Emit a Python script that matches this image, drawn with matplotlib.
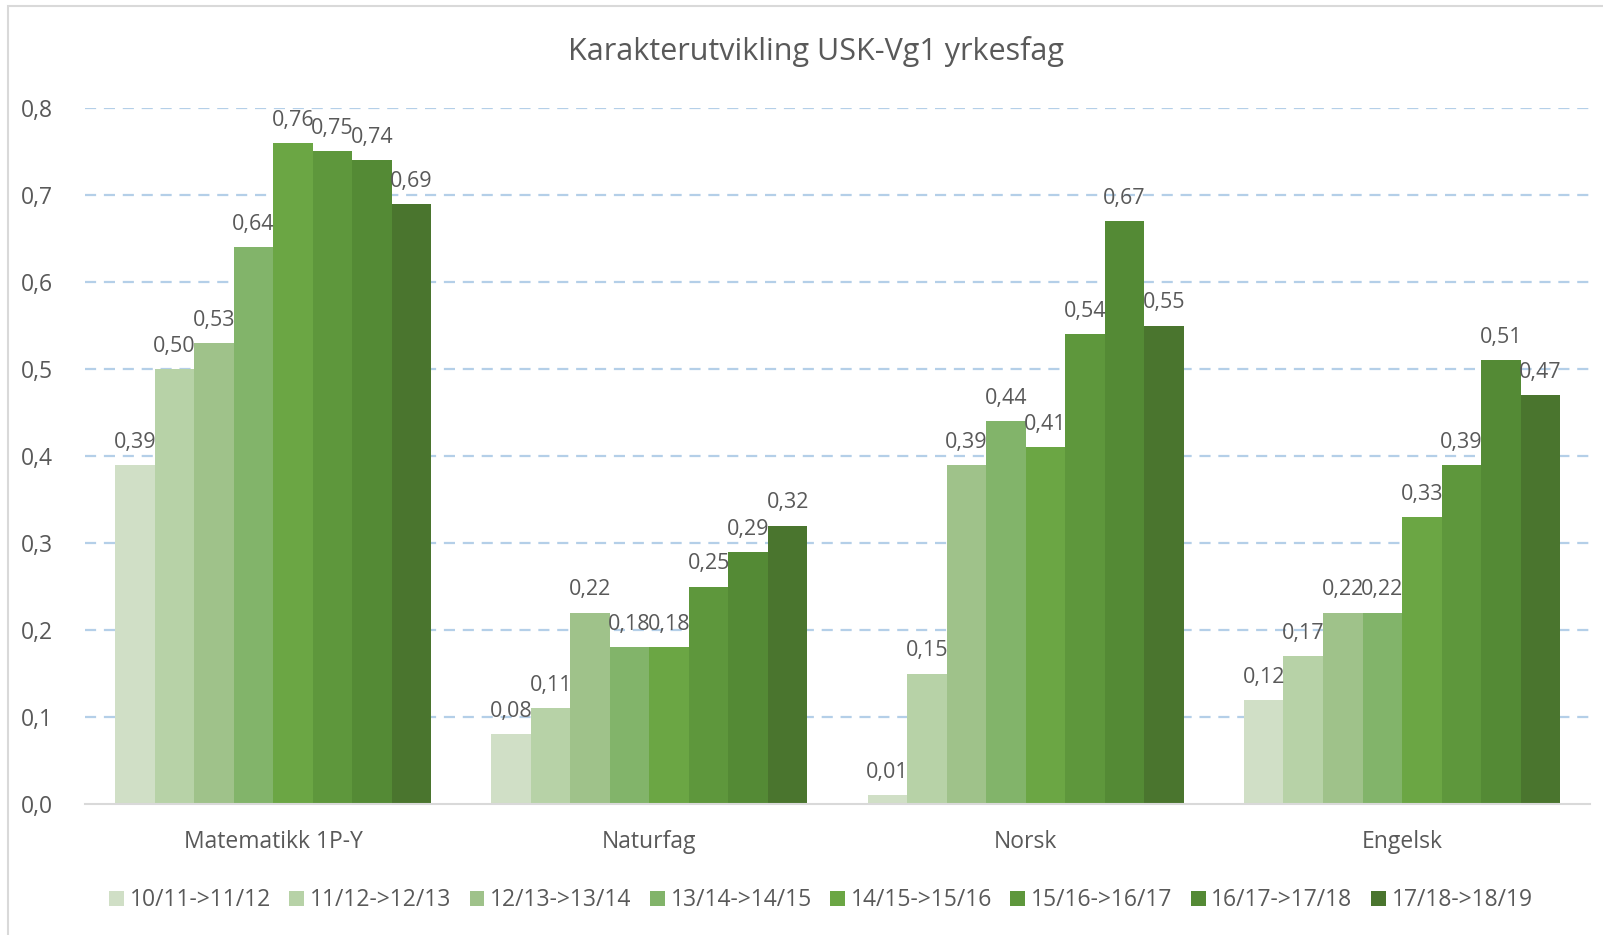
import matplotlib
matplotlib.use('Agg')
import matplotlib.pyplot as plt
import numpy as np
from matplotlib.patches import Rectangle

plt.rcParams['font.family'] = ['Open Sans', 'DejaVu Sans']

subjects = ['Matematikk 1P-Y', 'Naturfag', 'Norsk', 'Engelsk']
periods = ['10/11->11/12', '11/12->12/13', '12/13->13/14', '13/14->14/15',
           '14/15->15/16', '15/16->16/17', '16/17->17/18', '17/18->18/19']
p1 = [0.39, 0.08, 0.01, 0.12]
p2 = [0.50, 0.11, 0.15, 0.17]
p3 = [0.53, 0.22, 0.39, 0.22]
p4 = [0.64, 0.18, 0.44, 0.22]
p5 = [0.76, 0.18, 0.41, 0.33]
p6 = [0.75, 0.25, 0.54, 0.39]
p7 = [0.74, 0.29, 0.67, 0.51]
p8 = [0.69, 0.32, 0.55, 0.47]
series = [p1, p2, p3, p4, p5, p6, p7, p8]
colors = ['#d0dfc6', '#b7d2a7', '#9fc28a', '#82b46a',
          '#6ba644', '#5e973c', '#548a35', '#4a752e']
txt = '#595959'

fig = plt.figure(figsize=(16.03, 9.35), dpi=100)
ax = fig.add_axes([0.053, 0.140, 0.939, 0.7445])

x = np.arange(len(subjects))
w = 0.105
for i, vals in enumerate(series):
    xs = x + (i - 3.5) * w
    ax.bar(xs, vals, width=w, color=colors[i], label=periods[i], zorder=3)
    for xi, v in zip(xs, vals):
        ax.text(xi, v + 0.014, f"{v:.2f}".replace('.', ','), ha='center', va='bottom',
                fontsize=15.5, color=txt, zorder=4)

ax.set_xlim(-0.5, 3.5)
ax.set_ylim(0, 0.8)
yt = np.arange(0, 0.81, 0.1)
ax.set_yticks(yt)
ax.set_yticklabels([f"{t:.1f}".replace('.', ',') for t in yt], fontsize=16.5, color=txt)
ax.set_xticks(x)
ax.set_xticklabels(subjects, fontsize=16.5, color=txt)
ax.tick_params(axis='both', length=0)
ax.tick_params(axis='y', pad=23)
ax.tick_params(axis='x', pad=19)
for t in yt[1:]:
    ax.axhline(t, color='#b4cfe8', linestyle=(0, (5, 3.5)), linewidth=1.6, zorder=1)
for s in ['top', 'right', 'left']:
    ax.spines[s].set_visible(False)
ax.spines['bottom'].set_color('#d9d9d9')
ax.spines['bottom'].set_linewidth(1.5)
ax.spines['bottom'].set_zorder(5)

fig.text(0.509, 0.945, 'Karakterutvikling USK-Vg1 yrkesfag', ha='center', va='center',
         fontsize=22, color=txt)

fig.legend(loc='center', bbox_to_anchor=(0.512, 0.037), ncol=8, frameon=False,
           fontsize=16.5, labelcolor=txt, handlelength=0.65, handleheight=0.65,
           handletextpad=0.25, columnspacing=0.8)

fig.patches.append(Rectangle((8 / 1603, -0.01), 1.1, 1 - 6 / 935 + 0.01,
                             transform=fig.transFigure, fill=False,
                             edgecolor='#d9d9d9', linewidth=1.5))

fig.savefig('out.png', dpi=100)
